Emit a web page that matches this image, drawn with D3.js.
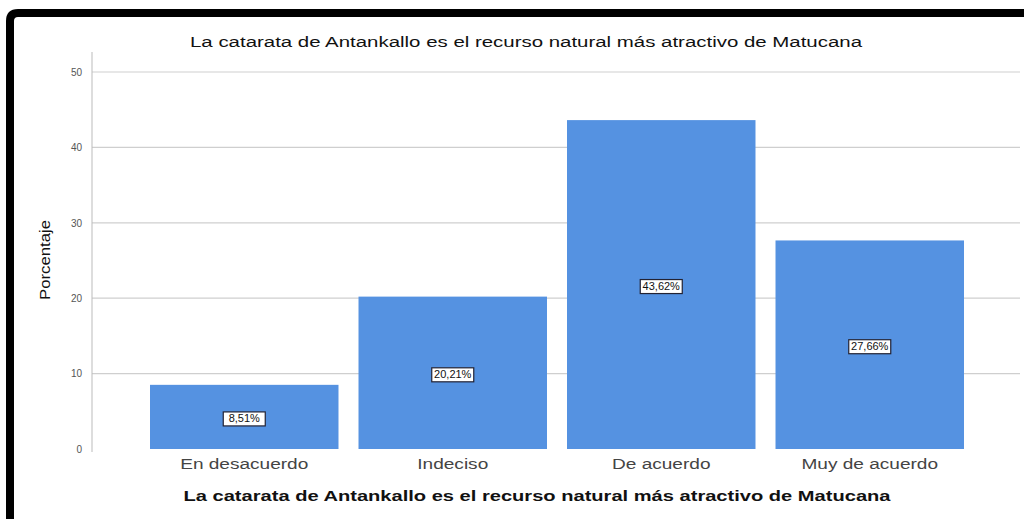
<!DOCTYPE html>
<html><head><meta charset="utf-8">
<script src="https://cdn.jsdelivr.net/npm/d3@7"></script>
<style>body{margin:0;background:#fff;}svg{display:block;}</style>
</head><body>
<svg id="c" width="1024" height="519"></svg>
<script>
const categories = ["En desacuerdo", "Indeciso", "De acuerdo", "Muy de acuerdo"];
const values = [8.51, 20.21, 43.62, 27.66];
const valueLabels = ["8,51%", "20,21%", "43,62%", "27,66%"];
const yTicks = [0, 10, 20, 30, 40, 50];
const title = "La catarata de Antankallo es el recurso natural más atractivo de Matucana";
const xTitle = "La catarata de Antankallo es el recurso natural más atractivo de Matucana";
const yTitle = "Porcentaje";

const FONT = "Liberation Sans, Arial, sans-serif";
const svg = d3.select("#c");
// horizontally stretched text like the reference
function stretch(sel, f) {
  sel.each(function() {
    const w = this.getComputedTextLength();
    d3.select(this).attr("textLength", w * f).attr("lengthAdjust", "spacingAndGlyphs");
  });
}

// frame
svg.append("path")
  .attr("d", "M10,519 L10,21 Q10,13 18,13 L1024,13")
  .attr("fill", "none").attr("stroke", "#000").attr("stroke-width", 8);

const x = d3.scaleBand().domain(categories).range([140, 974]).paddingInner(0.096).paddingOuter(0.048);
const y = d3.scaleLinear().domain([0, 50]).range([449, 72]);

// grid
svg.append("g").selectAll("line").data(yTicks.filter(d => d > 0)).join("line")
  .attr("x1", 92).attr("x2", 1020)
  .attr("y1", d => y(d)).attr("y2", d => y(d))
  .attr("stroke", "#cfcfcf").attr("stroke-width", 1.2);

// y axis
const ya = svg.append("g").attr("transform", "translate(92,0)")
  .call(d3.axisLeft(y).tickValues(yTicks).tickSize(0).tickPadding(10));
ya.select(".domain").remove();
ya.selectAll("text").attr("font-family", FONT).attr("font-size", 10).attr("fill", "#555");
svg.append("line").attr("x1", 92).attr("x2", 92).attr("y1", 52).attr("y2", 452)
  .attr("stroke", "#bbb").attr("stroke-width", 1);

// bars
svg.append("g").selectAll("rect").data(values).join("rect")
  .attr("x", (d, i) => x(categories[i]))
  .attr("width", x.bandwidth())
  .attr("y", d => y(d))
  .attr("height", d => y(0) - y(d))
  .attr("fill", "#5592e1");

// value labels
const lg = svg.append("g").selectAll("g").data(values).join("g")
  .attr("transform", (d, i) => `translate(${x(categories[i]) + x.bandwidth() / 2},${(y(d) + y(0)) / 2 + 2})`);
lg.append("rect").attr("x", -21).attr("y", -7).attr("width", 42).attr("height", 14)
  .attr("fill", "#fff").attr("stroke", "#223").attr("stroke-width", 1.2);
const vt = lg.append("text").text((d, i) => valueLabels[i])
  .attr("text-anchor", "middle").attr("dy", "0.35em")
  .attr("font-family", FONT).attr("font-size", 10).attr("fill", "#111");
stretch(vt, 1.1);

// x axis labels
const xa = svg.append("g").attr("transform", "translate(0,449)")
  .call(d3.axisBottom(x).tickSize(0).tickPadding(10));
xa.select(".domain").remove();
xa.selectAll("text").attr("font-family", FONT).attr("font-size", 14).attr("fill", "#444");
stretch(xa.selectAll("text"), 1.36);

// titles
const t1 = svg.append("text").text(title).attr("x", 526).attr("y", 47).attr("text-anchor", "middle")
  .attr("font-family", FONT).attr("font-size", 14).attr("fill", "#111");
t1.attr("textLength", 672).attr("lengthAdjust", "spacingAndGlyphs");
const t2 = svg.append("text").text(xTitle).attr("x", 537).attr("y", 501).attr("text-anchor", "middle")
  .attr("font-family", FONT).attr("font-size", 15).attr("font-weight", "bold").attr("fill", "#111");
t2.attr("textLength", 707).attr("lengthAdjust", "spacingAndGlyphs");
svg.append("text").text(yTitle).attr("transform", "translate(50,260) rotate(-90)").attr("text-anchor", "middle")
  .attr("font-family", FONT).attr("font-size", 14).attr("fill", "#111")
  .attr("textLength", 80).attr("lengthAdjust", "spacingAndGlyphs");
</script>
</body></html>
